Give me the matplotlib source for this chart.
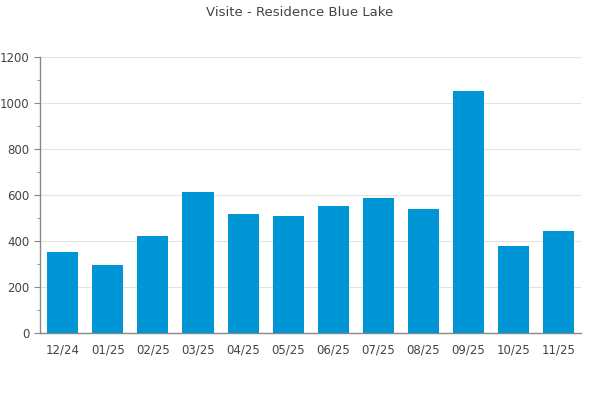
import matplotlib
matplotlib.use('Agg')
import numpy as np
import matplotlib.pyplot as plt
from matplotlib.ticker import MultipleLocator

months = ['12/24', '01/25', '02/25', '03/25', '04/25', '05/25',
          '06/25', '07/25', '08/25', '09/25', '10/25', '11/25']
visits = [354, 297, 423, 614, 519, 510, 554, 588, 541, 1054, 380, 445]

plt.rcParams['font.family'] = 'DejaVu Sans'
fig = plt.figure(figsize=(6, 4), dpi=100)
ax = fig.add_axes([40.3 / 600, 1 - 333.3 / 400, 540.7 / 600, 276 / 400])

x = np.arange(len(months))
ax.bar(x, visits, width=0.69, color='#0096d6', zorder=3)

ax.set_xlim(-0.5, len(months) - 0.5)
ax.set_ylim(0, 1200)
ax.yaxis.set_major_locator(MultipleLocator(200))
ax.yaxis.set_minor_locator(MultipleLocator(100))
ax.set_xticks(x)
ax.set_xticklabels(months)

ax.grid(axis='y', color='#e3e3e3', linewidth=0.8, zorder=0)
for s in ['top', 'right']:
    ax.spines[s].set_visible(False)
for s in ['left', 'bottom']:
    ax.spines[s].set_color('#888888')
    ax.spines[s].set_linewidth(1)

ax.tick_params(axis='y', which='major', length=4, color='#888888',
               labelsize=8.5, labelcolor='#444444', pad=4)
ax.tick_params(axis='y', which='minor', length=2, color='#888888')
ax.tick_params(axis='x', length=0, labelsize=8.5, labelcolor='#444444', pad=7)

fig.text(0.5, 1 - 12 / 400, 'Visite - Residence Blue Lake', ha='center',
         va='center', fontsize=9.5, color='#444444')

fig.savefig('out.png', dpi=100)
